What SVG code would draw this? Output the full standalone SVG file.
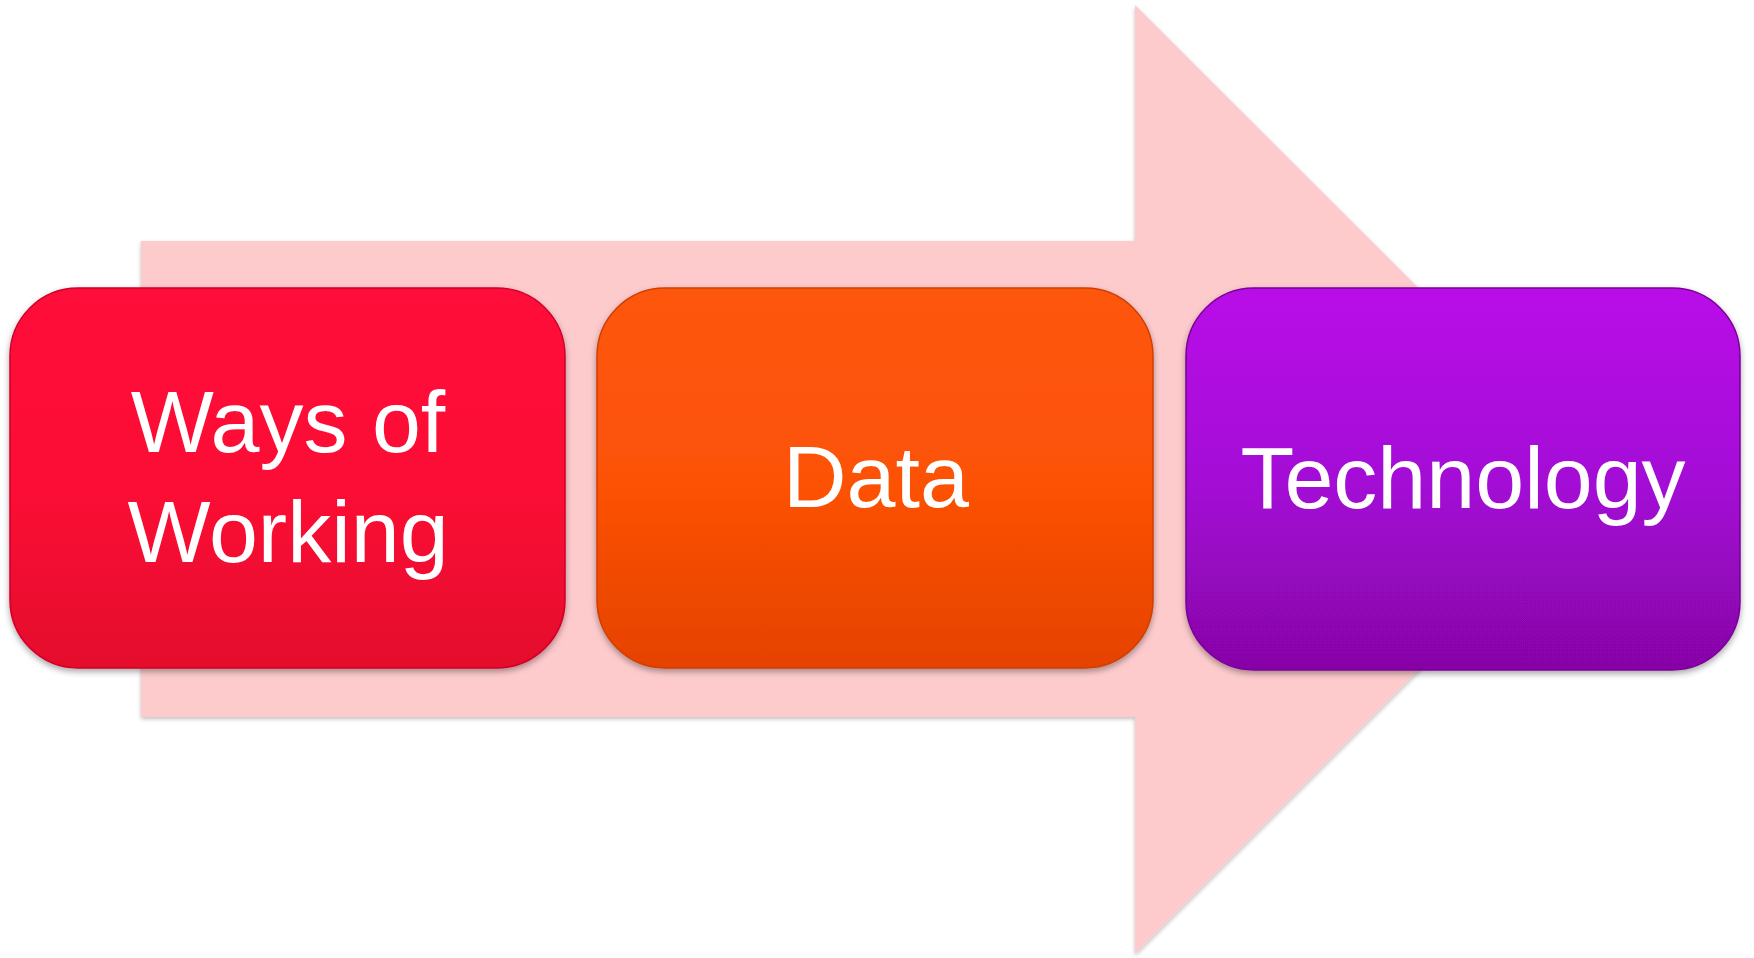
<svg xmlns="http://www.w3.org/2000/svg" width="1754" height="958" viewBox="0 0 1754 958">
<defs>
<linearGradient id="gRed" x1="0" y1="0" x2="0" y2="1">
<stop offset="0" stop-color="#ff0a3a"/><stop offset="0.55" stop-color="#fb0834"/><stop offset="1" stop-color="#e4072c"/>
</linearGradient>
<linearGradient id="gOrange" x1="0" y1="0" x2="0" y2="1">
<stop offset="0" stop-color="#ff560a"/><stop offset="0.55" stop-color="#fb5106"/><stop offset="1" stop-color="#e54204"/>
</linearGradient>
<linearGradient id="gPurple" x1="0" y1="0" x2="0" y2="1">
<stop offset="0" stop-color="#b90ae8"/><stop offset="0.5" stop-color="#a408d6"/><stop offset="1" stop-color="#8606a6"/>
</linearGradient>
<filter id="shadow" x="-5%" y="-5%" width="110%" height="115%">
<feDropShadow dx="0" dy="3" stdDeviation="3" flood-color="#000" flood-opacity="0.35"/>
</filter>
<filter id="ashadow" x="-5%" y="-5%" width="110%" height="110%">
<feDropShadow dx="0" dy="2" stdDeviation="2" flood-color="#000" flood-opacity="0.25"/>
</filter>
</defs>
<style>
.box{filter:url(#shadow);stroke-width:1.5}
.lbl{font-family:"Liberation Sans",Arial,sans-serif;font-size:88px;fill:#ffffff;text-anchor:middle}
</style>
<g id="arrow">
<polygon points="141,241 1135,241 1135,5 1610,479 1135,954 1135,717 141,717" fill="#fecbcd" filter="url(#ashadow)"/>
</g>
<g id="node-ways-of-working">
<rect class="box" x="10" y="288" width="555" height="380" rx="68" ry="68" fill="url(#gRed)" stroke="#d0062a"/>
<text class="lbl" x="288" y="452">Ways of</text>
<text class="lbl" x="288" y="562">Working</text>
</g>
<g id="node-data">
<rect class="box" x="597" y="288" width="556" height="380" rx="68" ry="68" fill="url(#gOrange)" stroke="#cf3f06"/>
<text class="lbl" x="876" y="507">Data</text>
</g>
<g id="node-technology">
<rect class="box" x="1186" y="288" width="554" height="382" rx="68" ry="68" fill="url(#gPurple)" stroke="#7c0698"/>
<text class="lbl" x="1463" y="508">Technology</text>
</g>
<g id="connectors"></g>
</svg>
